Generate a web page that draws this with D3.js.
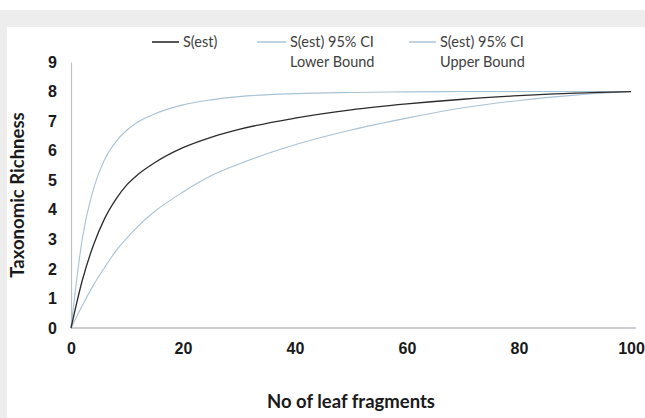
<!DOCTYPE html>
<html lang="en">
<head>
    <meta charset="UTF-8">
    <title>Taxonomic Richness</title>
    <script src="https://d3js.org/d3.v7.min.js"></script>
    <style>
        body { margin: 0; background: #fff; }
        svg { display: block; font-family: Lato, "Open Sans", sans-serif; }
        .tick text { font-weight: bold; font-size: 16px; fill: #1a1a1a; }
        .legend text { font-size: 14.5px; fill: #404040; }
        .title { font-weight: bold; font-size: 18.5px; fill: #1a1a1a; }
    </style>
</head>
<body>
<svg width="645" height="418"></svg>
<script>
    // fragments sampled
    const fragments = [0, 2, 4, 6, 8, 10, 12, 15, 20, 25, 30, 40, 50, 60, 70, 80, 90, 100];
    const sEst  = [0, 1.6, 2.8, 3.7, 4.35, 4.85, 5.2, 5.6, 6.1, 6.45, 6.72, 7.1, 7.38, 7.58, 7.74, 7.86, 7.95, 8.0];
    const upper = [0, 3.0, 4.7, 5.7, 6.3, 6.7, 6.98, 7.25, 7.55, 7.72, 7.83, 7.93, 7.97, 7.99, 8.0, 8.0, 8.0, 8.0];
    const lower = [0, 0.75, 1.45, 2.05, 2.6, 3.05, 3.45, 3.95, 4.6, 5.15, 5.55, 6.2, 6.7, 7.1, 7.45, 7.7, 7.88, 8.0];
    const xTicks = [0, 20, 40, 60, 80, 100];
    const yTicks = [0, 1, 2, 3, 4, 5, 6, 7, 8, 9];

    const svg = d3.select("svg");

    // grey frame around the chart area
    svg.append("rect").attr("x", 0).attr("y", 10).attr("width", 645).attr("height", 17).attr("fill", "#ededed");
    svg.append("rect").attr("x", 0).attr("y", 10).attr("width", 7).attr("height", 408).attr("fill", "#ededed");

    const x = d3.scaleLinear().domain([0, 100]).range([71, 631]);
    const y = d3.scaleLinear().domain([0, 9]).range([328, 62]);

    const xAxis = svg.append("g")
        .attr("transform", `translate(0,${y(0)})`)
        .call(d3.axisBottom(x).tickValues(xTicks).tickSize(0).tickPadding(15));
    xAxis.select(".domain").attr("stroke", "#b8bcc2").attr("stroke-width", 1.5)
        .attr("d", `M${x(0)},0H${x(100) + 5}`);

    const yAxis = svg.append("g")
        .attr("transform", `translate(${x(0)},0)`)
        .call(d3.axisLeft(y).tickValues(yTicks).tickSize(0).tickPadding(14));
    yAxis.select(".domain").attr("stroke", "#bfbfbf").attr("stroke-width", 1.2);

    const series = [
        { name: ["S(est)"], values: sEst, color: "#2b2b2b", width: 1.3, lx: 152, lw: 27 },
        { name: ["S(est) 95% CI", "Lower Bound"], values: lower, color: "#a8c2d6", width: 1.1, lx: 257, lw: 29 },
        { name: ["S(est) 95% CI", "Upper Bound"], values: upper, color: "#a8c2d6", width: 1.1, lx: 409, lw: 27 }
    ];

    const line = d3.line()
        .x((d, i) => x(fragments[i]))
        .y(d => y(d))
        .curve(d3.curveMonotoneX);

    // draw the light CI curves first so the black one sits on top
    [series[1], series[2], series[0]].forEach(s => {
        svg.append("path")
            .attr("d", line(s.values))
            .attr("fill", "none")
            .attr("stroke", s.color)
            .attr("stroke-width", s.width);
    });

    const legend = svg.append("g").attr("class", "legend");
    series.forEach(s => {
        legend.append("line")
            .attr("x1", s.lx).attr("x2", s.lx + s.lw)
            .attr("y1", 42).attr("y2", 42)
            .attr("stroke", s.color).attr("stroke-width", s.width + 0.3);
        s.name.forEach((t, k) => {
            legend.append("text")
                .attr("x", s.lx + s.lw + 4)
                .attr("y", 47 + k * 20)
                .text(t);
        });
    });

    svg.append("text").attr("class", "title")
        .attr("x", (x(0) + x(100)) / 2).attr("y", 408)
        .attr("text-anchor", "middle")
        .text("No of leaf fragments");

    svg.append("text").attr("class", "title")
        .attr("transform", `translate(24,${(y(0) + y(9)) / 2}) rotate(-90)`)
        .attr("text-anchor", "middle")
        .text("Taxonomic Richness");
</script>
</body>
</html>
